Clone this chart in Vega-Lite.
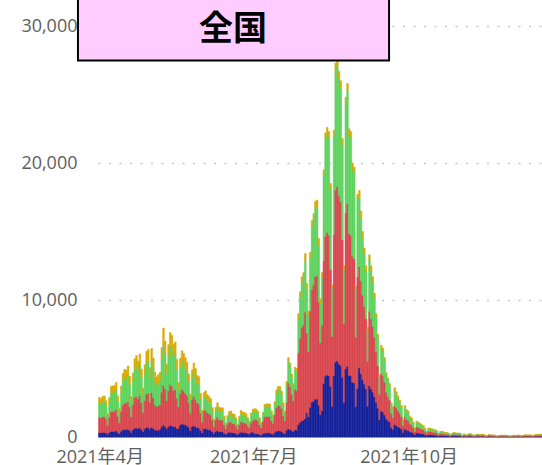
{
"$schema":"https://vega.github.io/schema/vega-lite/v6.json",
"autosize":"none",
"width":444,"height":437,
"padding":{"left":98,"top":0,"right":0,"bottom":28},
"config":{"view":{"stroke":null},"font":"Open Sans, 'Noto Sans CJK JP', sans-serif"},
"datasets":{"daily":[
{"d":"2021-03-31","s1":320,"s2":1130,"s3":1070,"s4":380},
{"d":"2021-04-01","s1":310,"s2":1090,"s3":1040,"s4":360},
{"d":"2021-04-02","s1":320,"s2":1150,"s3":1100,"s4":380},
{"d":"2021-04-03","s1":330,"s2":1170,"s3":1110,"s4":390},
{"d":"2021-04-04","s1":290,"s2":1030,"s3":990,"s4":340},
{"d":"2021-04-05","s1":190,"s2":660,"s3":630,"s4":220},
{"d":"2021-04-06","s1":320,"s2":1120,"s3":1060,"s4":370},
{"d":"2021-04-07","s1":410,"s2":1440,"s3":1370,"s4":480},
{"d":"2021-04-08","s1":410,"s2":1450,"s3":1390,"s4":480},
{"d":"2021-04-09","s1":410,"s2":1460,"s3":1390,"s4":490},
{"d":"2021-04-10","s1":440,"s2":1560,"s3":1470,"s4":520},
{"d":"2021-04-11","s1":330,"s2":1170,"s3":1110,"s4":390},
{"d":"2021-04-12","s1":230,"s2":810,"s3":760,"s4":270},
{"d":"2021-04-13","s1":410,"s2":1450,"s3":1380,"s4":480},
{"d":"2021-04-14","s1":510,"s2":1810,"s3":1730,"s4":600},
{"d":"2021-04-15","s1":540,"s2":1930,"s3":1830,"s4":640},
{"d":"2021-04-16","s1":540,"s2":1910,"s3":1800,"s4":640},
{"d":"2021-04-17","s1":570,"s2":2020,"s3":1930,"s4":670},
{"d":"2021-04-18","s1":490,"s2":1720,"s3":1640,"s4":570},
{"d":"2021-04-19","s1":320,"s2":1150,"s3":1100,"s4":380},
{"d":"2021-04-20","s1":510,"s2":1830,"s3":1730,"s4":610},
{"d":"2021-04-21","s1":630,"s2":2230,"s3":2110,"s4":740},
{"d":"2021-04-22","s1":650,"s2":2320,"s3":2200,"s4":770},
{"d":"2021-04-23","s1":610,"s2":2160,"s3":2040,"s4":720},
{"d":"2021-04-24","s1":670,"s2":2360,"s3":2230,"s4":790},
{"d":"2021-04-25","s1":550,"s2":1940,"s3":1830,"s4":650},
{"d":"2021-04-26","s1":390,"s2":1400,"s3":1320,"s4":470},
{"d":"2021-04-27","s1":580,"s2":2060,"s3":1950,"s4":690},
{"d":"2021-04-28","s1":690,"s2":2440,"s3":2310,"s4":810},
{"d":"2021-04-29","s1":700,"s2":2490,"s3":2370,"s4":830},
{"d":"2021-04-30","s1":560,"s2":1970,"s3":1870,"s4":660},
{"d":"2021-05-01","s1":710,"s2":2520,"s3":2390,"s4":840},
{"d":"2021-05-02","s1":630,"s2":2250,"s3":2140,"s4":750},
{"d":"2021-05-03","s1":520,"s2":1840,"s3":1750,"s4":610},
{"d":"2021-05-04","s1":480,"s2":1710,"s3":1620,"s4":570},
{"d":"2021-05-05","s1":500,"s2":1770,"s3":1690,"s4":590},
{"d":"2021-05-06","s1":520,"s2":1840,"s3":1750,"s4":610},
{"d":"2021-05-07","s1":720,"s2":2550,"s3":2420,"s4":850},
{"d":"2021-05-08","s1":870,"s2":2900,"s3":2930,"s4":1250},
{"d":"2021-05-09","s1":770,"s2":2730,"s3":2590,"s4":910},
{"d":"2021-05-10","s1":580,"s2":2070,"s3":1960,"s4":690},
{"d":"2021-05-11","s1":740,"s2":2630,"s3":2490,"s4":880},
{"d":"2021-05-12","s1":840,"s2":2970,"s3":2820,"s4":990},
{"d":"2021-05-13","s1":820,"s2":2890,"s3":2750,"s4":960},
{"d":"2021-05-14","s1":740,"s2":2640,"s3":2510,"s4":880},
{"d":"2021-05-15","s1":760,"s2":2700,"s3":2570,"s4":900},
{"d":"2021-05-16","s1":620,"s2":2210,"s3":2100,"s4":740},
{"d":"2021-05-17","s1":600,"s2":1590,"s3":1300,"s4":480},
{"d":"2021-05-18","s1":860,"s2":2300,"s3":1900,"s4":690},
{"d":"2021-05-19","s1":950,"s2":2520,"s3":2070,"s4":760},
{"d":"2021-05-20","s1":920,"s2":2440,"s3":2010,"s4":730},
{"d":"2021-05-21","s1":870,"s2":2320,"s3":1910,"s4":700},
{"d":"2021-05-22","s1":820,"s2":2180,"s3":1800,"s4":650},
{"d":"2021-05-23","s1":690,"s2":1840,"s3":1520,"s4":550},
{"d":"2021-05-24","s1":470,"s2":1250,"s3":1030,"s4":370},
{"d":"2021-05-25","s1":740,"s2":1960,"s3":1610,"s4":590},
{"d":"2021-05-26","s1":810,"s2":2160,"s3":1780,"s4":650},
{"d":"2021-05-27","s1":750,"s2":2000,"s3":1650,"s4":600},
{"d":"2021-05-28","s1":680,"s2":1800,"s3":1480,"s4":540},
{"d":"2021-05-29","s1":660,"s2":1760,"s3":1450,"s4":530},
{"d":"2021-05-30","s1":480,"s2":1270,"s3":1050,"s4":380},
{"d":"2021-05-31","s1":300,"s2":790,"s3":640,"s4":240},
{"d":"2021-06-01","s1":590,"s2":1300,"s3":970,"s4":390},
{"d":"2021-06-02","s1":610,"s2":1350,"s3":1010,"s4":400},
{"d":"2021-06-03","s1":550,"s2":1230,"s3":930,"s4":370},
{"d":"2021-06-04","s1":530,"s2":1180,"s3":890,"s4":360},
{"d":"2021-06-05","s1":500,"s2":1120,"s3":840,"s4":340},
{"d":"2021-06-06","s1":390,"s2":860,"s3":640,"s4":260},
{"d":"2021-06-07","s1":240,"s2":530,"s3":390,"s4":160},
{"d":"2021-06-08","s1":390,"s2":860,"s3":650,"s4":260},
{"d":"2021-06-09","s1":450,"s2":1000,"s3":750,"s4":300},
{"d":"2021-06-10","s1":390,"s2":870,"s3":660,"s4":260},
{"d":"2021-06-11","s1":380,"s2":850,"s3":640,"s4":260},
{"d":"2021-06-12","s1":380,"s2":850,"s3":640,"s4":260},
{"d":"2021-06-13","s1":280,"s2":610,"s3":460,"s4":180},
{"d":"2021-06-14","s1":190,"s2":410,"s3":310,"s4":120},
{"d":"2021-06-15","s1":280,"s2":620,"s3":470,"s4":190},
{"d":"2021-06-16","s1":340,"s2":750,"s3":560,"s4":220},
{"d":"2021-06-17","s1":340,"s2":760,"s3":560,"s4":230},
{"d":"2021-06-18","s1":300,"s2":680,"s3":510,"s4":200},
{"d":"2021-06-19","s1":300,"s2":670,"s3":500,"s4":200},
{"d":"2021-06-20","s1":250,"s2":560,"s3":430,"s4":170},
{"d":"2021-06-21","s1":170,"s2":380,"s3":280,"s4":110},
{"d":"2021-06-22","s1":270,"s2":600,"s3":460,"s4":180},
{"d":"2021-06-23","s1":350,"s2":780,"s3":590,"s4":230},
{"d":"2021-06-24","s1":330,"s2":730,"s3":540,"s4":220},
{"d":"2021-06-25","s1":320,"s2":720,"s3":540,"s4":210},
{"d":"2021-06-26","s1":300,"s2":680,"s3":510,"s4":200},
{"d":"2021-06-27","s1":250,"s2":560,"s3":430,"s4":170},
{"d":"2021-06-28","s1":210,"s2":460,"s3":350,"s4":140},
{"d":"2021-06-29","s1":320,"s2":700,"s3":520,"s4":210},
{"d":"2021-06-30","s1":360,"s2":810,"s3":610,"s4":240},
{"d":"2021-07-01","s1":250,"s2":1040,"s3":640,"s4":140},
{"d":"2021-07-02","s1":240,"s2":1020,"s3":630,"s4":140},
{"d":"2021-07-03","s1":230,"s2":950,"s3":590,"s4":130},
{"d":"2021-07-04","s1":170,"s2":710,"s3":430,"s4":100},
{"d":"2021-07-05","s1":130,"s2":540,"s3":330,"s4":80},
{"d":"2021-07-06","s1":220,"s2":910,"s3":550,"s4":130},
{"d":"2021-07-07","s1":280,"s2":1190,"s3":730,"s4":170},
{"d":"2021-07-08","s1":290,"s2":1210,"s3":750,"s4":170},
{"d":"2021-07-09","s1":290,"s2":1210,"s3":750,"s4":170},
{"d":"2021-07-10","s1":290,"s2":1200,"s3":740,"s4":170},
{"d":"2021-07-11","s1":230,"s2":960,"s3":590,"s4":130},
{"d":"2021-07-12","s1":190,"s2":810,"s3":510,"s4":110},
{"d":"2021-07-13","s1":310,"s2":1290,"s3":800,"s4":180},
{"d":"2021-07-14","s1":410,"s2":1730,"s3":1070,"s4":240},
{"d":"2021-07-15","s1":440,"s2":1850,"s3":1140,"s4":260},
{"d":"2021-07-16","s1":440,"s2":1850,"s3":1140,"s4":260},
{"d":"2021-07-17","s1":400,"s2":1680,"s3":1040,"s4":230},
{"d":"2021-07-18","s1":300,"s2":1260,"s3":770,"s4":180},
{"d":"2021-07-19","s1":230,"s2":940,"s3":580,"s4":130},
{"d":"2021-07-20","s1":490,"s2":2030,"s3":1260,"s4":280},
{"d":"2021-07-21","s1":580,"s2":3360,"s3":1630,"s4":230},
{"d":"2021-07-22","s1":540,"s2":3130,"s3":1510,"s4":220},
{"d":"2021-07-23","s1":460,"s2":2670,"s3":1290,"s4":180},
{"d":"2021-07-24","s1":390,"s2":2260,"s3":1090,"s4":160},
{"d":"2021-07-25","s1":510,"s2":2960,"s3":1430,"s4":200},
{"d":"2021-07-26","s1":500,"s2":2900,"s3":1400,"s4":200},
{"d":"2021-07-27","s1":900,"s2":5220,"s3":2520,"s4":360},
{"d":"2021-07-28","s1":1060,"s2":6150,"s3":2970,"s4":420},
{"d":"2021-07-29","s1":1170,"s2":6790,"s3":3270,"s4":470},
{"d":"2021-07-30","s1":1200,"s2":6960,"s3":3360,"s4":480},
{"d":"2021-07-31","s1":1340,"s2":7770,"s3":3750,"s4":540},
{"d":"2021-08-01","s1":1790,"s2":5820,"s3":3250,"s4":340},
{"d":"2021-08-02","s1":1470,"s2":4780,"s3":2670,"s4":280},
{"d":"2021-08-03","s1":2160,"s2":7020,"s3":3910,"s4":410},
{"d":"2021-08-04","s1":2530,"s2":8220,"s3":4580,"s4":470},
{"d":"2021-08-05","s1":2610,"s2":8480,"s3":4720,"s4":490},
{"d":"2021-08-06","s1":2750,"s2":8940,"s3":4990,"s4":520},
{"d":"2021-08-07","s1":2770,"s2":9000,"s3":5010,"s4":520},
{"d":"2021-08-08","s1":2320,"s2":7540,"s3":4200,"s4":440},
{"d":"2021-08-09","s1":1620,"s2":5250,"s3":2930,"s4":300},
{"d":"2021-08-10","s1":1920,"s2":6240,"s3":3480,"s4":360},
{"d":"2021-08-11","s1":3900,"s2":8970,"s3":6240,"s4":390},
{"d":"2021-08-12","s1":4440,"s2":10210,"s3":7110,"s4":440},
{"d":"2021-08-13","s1":4520,"s2":10400,"s3":7230,"s4":450},
{"d":"2021-08-14","s1":4460,"s2":10260,"s3":7130,"s4":450},
{"d":"2021-08-15","s1":3700,"s2":8510,"s3":5920,"s4":370},
{"d":"2021-08-16","s1":2220,"s2":5110,"s3":3550,"s4":220},
{"d":"2021-08-17","s1":4480,"s2":10300,"s3":7170,"s4":450},
{"d":"2021-08-18","s1":5460,"s2":12560,"s3":8730,"s4":550},
{"d":"2021-08-19","s1":5540,"s2":12740,"s3":8870,"s4":550},
{"d":"2021-08-20","s1":5340,"s2":12280,"s3":8550,"s4":530},
{"d":"2021-08-21","s1":5200,"s2":11960,"s3":8320,"s4":520},
{"d":"2021-08-22","s1":4360,"s2":10030,"s3":6970,"s4":440},
{"d":"2021-08-23","s1":2500,"s2":5750,"s3":4000,"s4":250},
{"d":"2021-08-24","s1":4960,"s2":11410,"s3":7930,"s4":500},
{"d":"2021-08-25","s1":5160,"s2":11870,"s3":8250,"s4":520},
{"d":"2021-08-26","s1":4500,"s2":10350,"s3":7200,"s4":450},
{"d":"2021-08-27","s1":4460,"s2":10260,"s3":7130,"s4":450},
{"d":"2021-08-28","s1":4000,"s2":9200,"s3":6400,"s4":400},
{"d":"2021-08-29","s1":3940,"s2":9060,"s3":6310,"s4":390},
{"d":"2021-08-30","s1":2200,"s2":5060,"s3":3520,"s4":220},
{"d":"2021-08-31","s1":3540,"s2":8140,"s3":5670,"s4":350},
{"d":"2021-09-01","s1":5040,"s2":7380,"s3":5040,"s4":540},
{"d":"2021-09-02","s1":4620,"s2":6770,"s3":4610,"s4":500},
{"d":"2021-09-03","s1":4200,"s2":6150,"s3":4200,"s4":450},
{"d":"2021-09-04","s1":3860,"s2":5660,"s3":3870,"s4":410},
{"d":"2021-09-05","s1":3500,"s2":5130,"s3":3490,"s4":380},
{"d":"2021-09-06","s1":2240,"s2":3280,"s3":2240,"s4":240},
{"d":"2021-09-07","s1":3720,"s2":5450,"s3":3730,"s4":400},
{"d":"2021-09-08","s1":3500,"s2":5130,"s3":3490,"s4":380},
{"d":"2021-09-09","s1":3280,"s2":4800,"s3":3270,"s4":350},
{"d":"2021-09-10","s1":2940,"s2":4310,"s3":2930,"s4":320},
{"d":"2021-09-11","s1":2520,"s2":3690,"s3":2520,"s4":270},
{"d":"2021-09-12","s1":2100,"s2":3080,"s3":2090,"s4":230},
{"d":"2021-09-13","s1":1260,"s2":1850,"s3":1250,"s4":140},
{"d":"2021-09-14","s1":1880,"s2":2750,"s3":1870,"s4":200},
{"d":"2021-09-15","s1":1820,"s2":2670,"s3":1810,"s4":200},
{"d":"2021-09-16","s1":1620,"s2":2380,"s3":1630,"s4":170},
{"d":"2021-09-17","s1":1320,"s2":1930,"s3":1310,"s4":140},
{"d":"2021-09-18","s1":1200,"s2":1760,"s3":1210,"s4":130},
{"d":"2021-09-19","s1":1090,"s2":1600,"s3":1090,"s4":120},
{"d":"2021-09-20","s1":700,"s2":1030,"s3":690,"s4":80},
{"d":"2021-09-21","s1":550,"s2":860,"s3":660,"s4":130},
{"d":"2021-09-22","s1":900,"s2":1400,"s3":1080,"s4":220},
{"d":"2021-09-23","s1":830,"s2":1290,"s3":980,"s4":200},
{"d":"2021-09-24","s1":750,"s2":1170,"s3":900,"s4":180},
{"d":"2021-09-25","s1":680,"s2":1050,"s3":810,"s4":160},
{"d":"2021-09-26","s1":580,"s2":900,"s3":680,"s4":140},
{"d":"2021-09-27","s1":330,"s2":510,"s3":380,"s4":80},
{"d":"2021-09-28","s1":580,"s2":900,"s3":680,"s4":140},
{"d":"2021-09-29","s1":500,"s2":780,"s3":600,"s4":120},
{"d":"2021-09-30","s1":480,"s2":740,"s3":570,"s4":110},
{"d":"2021-10-01","s1":380,"s2":590,"s3":440,"s4":90},
{"d":"2021-10-02","s1":350,"s2":550,"s3":420,"s4":80},
{"d":"2021-10-03","s1":280,"s2":430,"s3":320,"s4":70},
{"d":"2021-10-04","s1":160,"s2":250,"s3":200,"s4":40},
{"d":"2021-10-05","s1":290,"s2":450,"s3":340,"s4":70},
{"d":"2021-10-06","s1":280,"s2":430,"s3":320,"s4":70},
{"d":"2021-10-07","s1":250,"s2":390,"s3":300,"s4":60},
{"d":"2021-10-08","s1":230,"s2":350,"s3":270,"s4":50},
{"d":"2021-10-09","s1":210,"s2":320,"s3":240,"s4":50},
{"d":"2021-10-10","s1":160,"s2":250,"s3":200,"s4":40},
{"d":"2021-10-11","s1":100,"s2":160,"s3":120,"s4":20},
{"d":"2021-10-12","s1":160,"s2":250,"s3":200,"s4":40},
{"d":"2021-10-13","s1":160,"s2":250,"s3":200,"s4":40},
{"d":"2021-10-14","s1":150,"s2":230,"s3":180,"s4":40},
{"d":"2021-10-15","s1":140,"s2":210,"s3":170,"s4":30},
{"d":"2021-10-16","s1":130,"s2":200,"s3":160,"s4":30},
{"d":"2021-10-17","s1":110,"s2":180,"s3":130,"s4":30},
{"d":"2021-10-18","s1":60,"s2":100,"s3":70,"s4":20},
{"d":"2021-10-19","s1":100,"s2":160,"s3":120,"s4":20},
{"d":"2021-10-20","s1":100,"s2":160,"s3":130,"s4":30},
{"d":"2021-10-21","s1":90,"s2":140,"s3":120,"s4":20},
{"d":"2021-10-22","s1":80,"s2":130,"s3":100,"s4":20},
{"d":"2021-10-23","s1":80,"s2":120,"s3":100,"s4":20},
{"d":"2021-10-24","s1":70,"s2":110,"s3":80,"s4":20},
{"d":"2021-10-25","s1":40,"s2":60,"s3":50,"s4":10},
{"d":"2021-10-26","s1":70,"s2":100,"s3":80,"s4":20},
{"d":"2021-10-27","s1":80,"s2":130,"s3":100,"s4":20},
{"d":"2021-10-28","s1":70,"s2":120,"s3":90,"s4":20},
{"d":"2021-10-29","s1":70,"s2":110,"s3":80,"s4":20},
{"d":"2021-10-30","s1":70,"s2":110,"s3":90,"s4":20},
{"d":"2021-10-31","s1":60,"s2":100,"s3":70,"s4":20},
{"d":"2021-11-01","s1":25,"s2":40,"s3":30,"s4":5},
{"d":"2021-11-02","s1":55,"s2":85,"s3":65,"s4":15},
{"d":"2021-11-03","s1":40,"s2":65,"s3":55,"s4":10},
{"d":"2021-11-04","s1":40,"s2":60,"s3":40,"s4":10},
{"d":"2021-11-05","s1":60,"s2":90,"s3":65,"s4":15},
{"d":"2021-11-06","s1":60,"s2":95,"s3":70,"s4":15},
{"d":"2021-11-07","s1":40,"s2":65,"s3":55,"s4":10},
{"d":"2021-11-08","s1":25,"s2":40,"s3":30,"s4":5},
{"d":"2021-11-09","s1":40,"s2":60,"s3":50,"s4":10},
{"d":"2021-11-10","s1":50,"s2":80,"s3":60,"s4":10},
{"d":"2021-11-11","s1":50,"s2":75,"s3":55,"s4":10},
{"d":"2021-11-12","s1":45,"s2":70,"s3":55,"s4":10},
{"d":"2021-11-13","s1":50,"s2":80,"s3":60,"s4":10},
{"d":"2021-11-14","s1":40,"s2":65,"s3":55,"s4":10},
{"d":"2021-11-15","s1":20,"s2":30,"s3":25,"s4":5},
{"d":"2021-11-16","s1":30,"s2":45,"s3":35,"s4":10},
{"d":"2021-11-17","s1":45,"s2":70,"s3":55,"s4":10},
{"d":"2021-11-18","s1":40,"s2":60,"s3":40,"s4":10},
{"d":"2021-11-19","s1":40,"s2":60,"s3":40,"s4":10},
{"d":"2021-11-20","s1":35,"s2":55,"s3":40,"s4":10},
{"d":"2021-11-21","s1":25,"s2":40,"s3":30,"s4":5},
{"d":"2021-11-22","s1":15,"s2":25,"s3":15,"s4":5},
{"d":"2021-11-23","s1":25,"s2":45,"s3":35,"s4":5},
{"d":"2021-11-24","s1":30,"s2":50,"s3":40,"s4":10},
{"d":"2021-11-25","s1":30,"s2":45,"s3":35,"s4":10},
{"d":"2021-11-26","s1":30,"s2":50,"s3":40,"s4":10},
{"d":"2021-11-27","s1":30,"s2":50,"s3":40,"s4":10},
{"d":"2021-11-28","s1":25,"s2":45,"s3":35,"s4":5},
{"d":"2021-11-29","s1":15,"s2":30,"s3":20,"s4":5},
{"d":"2021-11-30","s1":20,"s2":30,"s3":25,"s4":5},
{"d":"2021-12-01","s1":30,"s2":45,"s3":35,"s4":10},
{"d":"2021-12-02","s1":30,"s2":50,"s3":40,"s4":10},
{"d":"2021-12-03","s1":25,"s2":45,"s3":35,"s4":5},
{"d":"2021-12-04","s1":35,"s2":55,"s3":40,"s4":10},
{"d":"2021-12-05","s1":30,"s2":50,"s3":40,"s4":10},
{"d":"2021-12-06","s1":20,"s2":30,"s3":25,"s4":5},
{"d":"2021-12-07","s1":25,"s2":45,"s3":35,"s4":5},
{"d":"2021-12-08","s1":40,"s2":60,"s3":40,"s4":10},
{"d":"2021-12-09","s1":40,"s2":60,"s3":50,"s4":10},
{"d":"2021-12-10","s1":40,"s2":60,"s3":40,"s4":10},
{"d":"2021-12-11","s1":40,"s2":60,"s3":40,"s4":10},
{"d":"2021-12-12","s1":35,"s2":55,"s3":40,"s4":10},
{"d":"2021-12-13","s1":20,"s2":35,"s3":30,"s4":5},
{"d":"2021-12-14","s1":40,"s2":60,"s3":50,"s4":10},
{"d":"2021-12-15","s1":45,"s2":70,"s3":55,"s4":10},
{"d":"2021-12-16","s1":50,"s2":75,"s3":55,"s4":10},
{"d":"2021-12-17","s1":50,"s2":80,"s3":60,"s4":10},
{"d":"2021-12-18","s1":50,"s2":80,"s3":60,"s4":10}
]},
"layer":[
{
"data":{"name":"daily"},
"transform":[{"fold":["s1","s2","s3","s4"],"as":["grp","n"]}],
"mark":{"type":"bar","binSpacing":0,"strokeWidth":0.5},
"encoding":{
"x":{"field":"d","type":"temporal","timeUnit":"utcyearmonthdate",
"scale":{"type":"utc","domain":[{"year":2021,"month":3,"date":31,"utc":true},{"year":2021,"month":12,"date":19,"utc":true}]},
"axis":{"title":null,"values":[{"year":2021,"month":4,"date":1,"utc":true},{"year":2021,"month":7,"date":1,"utc":true},{"year":2021,"month":10,"date":1,"utc":true}],
"labelExpr":"utcFormat(datum.value, '%Y年%-m月')","labelFontSize":18,"labelColor":"#605e5c","labelPadding":11,"labelFlush":false,"labelOverlap":false,"ticks":false,"grid":false,"domainColor":"#b3b8c8","domainWidth":1}},
"y":{"field":"n","type":"quantitative","aggregate":"sum","stack":"zero",
"scale":{"domain":[0,31900],"nice":false},
"axis":{"title":null,"values":[0,10000,20000,30000],"format":",d","labelFontSize":18,"labelColor":"#605e5c","labelPadding":21,"domain":false,"ticks":false,
"gridColor":"#c8c8c8","gridDash":[2,8.5],"gridWidth":1.5}},
"color":{"field":"grp","type":"nominal","legend":null,
"scale":{"domain":["s1","s2","s3","s4"],"range":["#15219a","#d8474f","#5fd35f","#d9ab05"]}},
"stroke":{"field":"grp","type":"nominal","legend":null,
"scale":{"domain":["s1","s2","s3","s4"],"range":["#15219a","#d8474f","#5fd35f","#d9ab05"]}},
"order":{"field":"grp","type":"ordinal","sort":"ascending"}
}
},
{
"data":{"values":[{}]},
"mark":{"type":"rect","fill":"#ffccff","stroke":"#000000","strokeWidth":2},
"encoding":{
"x":{"datum":{"year":2021,"month":3,"date":19,"hours":3,"utc":true},"type":"temporal"},
"x2":{"datum":{"year":2021,"month":9,"date":19,"hours":10,"utc":true}},
"y":{"datum":27480,"type":"quantitative"},
"y2":{"datum":34000}
}
},
{
"data":{"values":[{}]},
"mark":{"type":"text","text":"全国","font":"Noto Sans CJK JP","fontWeight":"bold","fontSize":34,"color":"#000000","baseline":"middle","align":"center"},
"encoding":{
"x":{"datum":{"year":2021,"month":6,"date":19,"utc":true},"type":"temporal"},
"y":{"datum":29700,"type":"quantitative"}
}
}
]
}
